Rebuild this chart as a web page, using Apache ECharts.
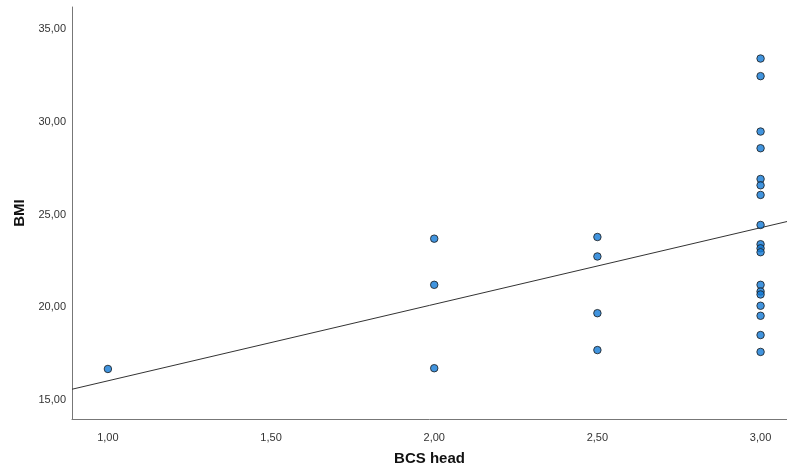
<!DOCTYPE html>
<html>
<head>
<meta charset="utf-8">
<script src="https://cdn.jsdelivr.net/npm/echarts@6/dist/echarts.min.js"></script>
<style>
  html, body { margin: 0; padding: 0; background: #fff; }
  #chart { width: 787px; height: 472px; }
</style>
</head>
<body>
<div id="chart"></div>
<script>
// BCS head score for each subject
const bcsHead = [
  1.0,
  2.0, 2.0, 2.0,
  2.5, 2.5, 2.5, 2.5,
  3.0, 3.0, 3.0, 3.0, 3.0, 3.0, 3.0, 3.0, 3.0,
  3.0, 3.0, 3.0, 3.0, 3.0, 3.0, 3.0, 3.0, 3.0
];
// BMI for each subject (same order as bcsHead)
const bmi = [
  16.67,
  23.70, 21.21, 16.71,
  23.79, 22.74, 19.68, 17.69,
  33.42, 32.47, 29.48, 28.58, 26.92, 26.58, 26.06, 24.44, 23.40,
  23.18, 22.97, 21.21, 20.85, 20.69, 20.08, 19.54, 18.50, 17.59
];
// Linear fit: BMI = intercept + slope * BCS head
const fitIntercept = 11.90;
const fitSlope = 4.13;

// Axis ranges and tick labels
const xRange = [0.89, 3.081];
const yRange = [13.97, 36.2];
const xTicks = [1.0, 1.5, 2.0, 2.5, 3.0];
const yTicks = [15, 20, 25, 30, 35];

const fmt = v => Number(v).toFixed(2).replace('.', ',');

const points = bcsHead.map((x, i) => [x, bmi[i]]);
const fitLine = xRange.map(x => [x, fitIntercept + fitSlope * x]);

const font = "'Liberation Sans', Arial, sans-serif";

const chart = echarts.init(document.getElementById('chart'), null, { renderer: 'canvas' });
chart.setOption({
  animation: false,
  backgroundColor: '#ffffff',
  grid: { left: 72, right: 0, top: 7, bottom: 53, containLabel: false },
  xAxis: {
    type: 'value',
    min: xRange[0],
    max: xRange[1],
    name: 'BCS head',
    nameLocation: 'middle',
    nameGap: 32,
    nameTextStyle: { fontFamily: font, fontSize: 15, fontWeight: 'bold', color: '#111' },
    axisLine: { show: true, lineStyle: { color: '#777', width: 1 } },
    axisTick: { show: false },
    splitLine: { show: false },
    axisLabel: {
      customValues: xTicks,
      formatter: fmt,
      margin: 13,
      fontFamily: font,
      fontSize: 11,
      color: '#333'
    }
  },
  yAxis: {
    type: 'value',
    min: yRange[0],
    max: yRange[1],
    name: 'BMI',
    nameLocation: 'middle',
    nameGap: 44,
    nameRotate: 90,
    nameTextStyle: { fontFamily: font, fontSize: 15, fontWeight: 'bold', color: '#111' },
    axisLine: { show: true, lineStyle: { color: '#777', width: 1 } },
    axisTick: { show: false },
    splitLine: { show: false },
    axisLabel: {
      customValues: yTicks,
      formatter: fmt,
      margin: 6,
      fontFamily: font,
      fontSize: 11,
      color: '#333'
    }
  },
  series: [
    {
      type: 'line',
      data: fitLine,
      symbol: 'none',
      silent: true,
      lineStyle: { color: '#333', width: 1 },
      z: 1
    },
    {
      type: 'scatter',
      data: points,
      symbol: 'circle',
      symbolSize: 7.5,
      itemStyle: { color: '#1279d6', borderColor: '#1a1a1a', borderWidth: 1 },
      z: 2
    }
  ]
});
</script>
</body>
</html>
